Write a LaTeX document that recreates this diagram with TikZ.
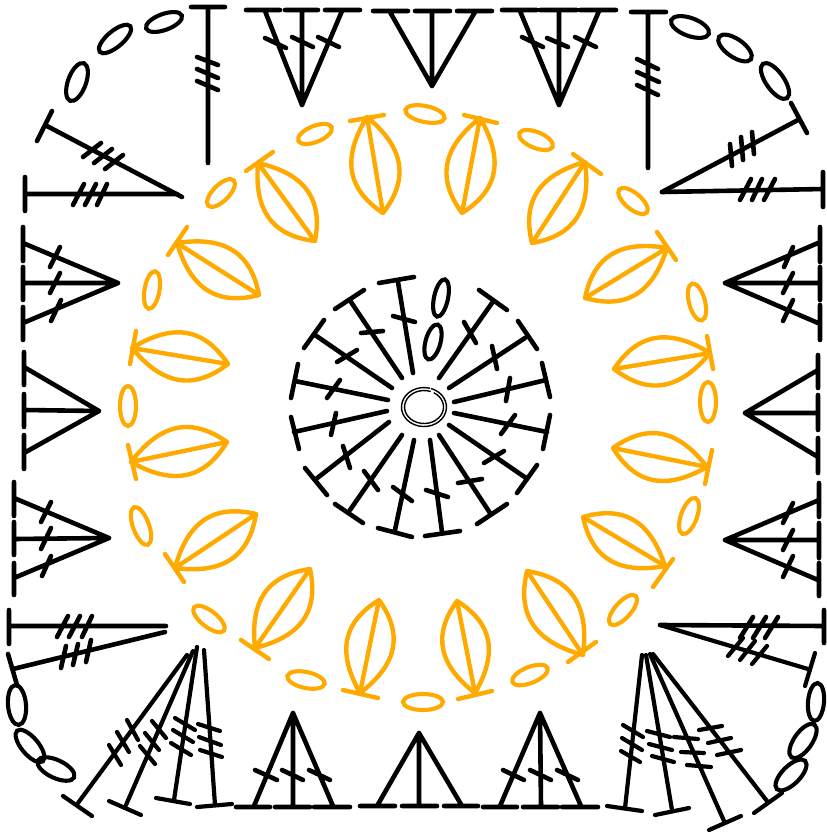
\documentclass[tikz,border=0pt]{standalone}
\definecolor{leaforange}{RGB}{255,170,0}
\tikzset{
  ink/.style={black,line width=4.6pt,line cap=round,line join=round},
  finer/.style={ink,line width=4.2pt},
  lf/.style={leaforange,line width=4.4pt,line cap=round,line join=round},
  loopk/.style={black,line width=4.1pt},
  loopo/.style={leaforange,line width=4.1pt},
  ringline/.style={black,line width=1.4pt},
  sideA/.style={relative,out=47,in=139,looseness=1.2},
  sideB/.style={relative,out=41,in=133,looseness=1.2}
}
% base, top, bar ends, tick ends
\newcommand{\stit}[6]{\draw[ink] (#1)--(#2) (#3)--(#4) (#5)--(#6);}
\newcommand{\lfshape}[4]{\draw[lf] (#1) to[sideA] (#2) to[sideB] (#1) (#1)--(#2) (#3)--(#4);}
\newcommand{\ov}[6]{\draw[#1] (#2,#3) ellipse[x radius=#5pt,y radius=#6pt,rotate=#4];}
\begin{document}
\begin{tikzpicture}[x=1pt,y=-1pt]
\useasboundingbox (0,0) rectangle (827,833);
% ---- centre ring
\draw[ringline] (429.8,388.2) arc[start angle=75,end angle=432,x radius=22.5pt,y radius=19.5pt];
\draw[ringline] (430.7,391.5) arc[start angle=70,end angle=420,x radius=19.5pt,y radius=16.5pt];
% ---- centre stitches
\stit{413,373}{398,282}{379,283}{414,277}{393,316}{415,322}
\stit{402,378}{351,302}{335,309}{364,290}{361,333}{383,331}
\stit{392,388}{315,335}{304,348}{324,320}{337,362}{357,350}
\stit{388,400}{295,381}{298,364}{291,398}{340,380}{327,398}
\stit{387,411}{294,432}{291,417}{299,449}{336,413}{331,435}
\stit{389,422}{316,479}{305,468}{327,495}{343,446}{350,468}
\stit{402,435}{350,510}{335,504}{363,523}{364,471}{378,490}
\stit{414,440}{395,530}{378,528}{412,537}{393,487}{412,501}
\stit{430,440}{442,532}{425,536}{460,531}{426,490}{448,497}
\stit{439,435}{490,513}{477,524}{507,504}{458,483}{482,479}
\stit{449,425}{526,478}{517,493}{537,465}{484,463}{504,451}
\stit{454,413}{547,432}{550,415}{543,449}{515,415}{501,434}
\stit{454,402}{546,380}{542,363}{550,397}{510,378}{506,401}
\stit{449,388}{525,338}{518,321}{537,349}{492,346}{497,369}
\stit{439,378}{492,303}{479,290}{507,310}{464,322}{476,343}
\ov{loopk}{441}{298}{78}{19}{7}
\ov{loopk}{433}{342}{75}{18}{7.5}
% ---- orange leaves
\lfshape{383,213}{367,117}{350,121}{384,115}
\lfshape{462,213}{480,118}{464,115}{497,123}
\lfshape{532,243}{585,162}{573,154}{601,174}
\lfshape{585,298}{667,248}{657,232}{676,260}
\lfshape{614,369}{710,353}{707,336}{713,369}
\lfshape{613,448}{707,467}{712,450}{705,484}
\lfshape{583,517}{665,566}{673,559}{653,587}
\lfshape{527,571}{583,655}{596,642}{568,662}
\lfshape{457,601}{475,693}{458,699}{492,691}
\lfshape{379,600}{360,693}{343,690}{378,698}
\lfshape{310,569}{255,648}{241,640}{269,659}
\lfshape{256,514}{175,568}{165,554}{184,582}
\lfshape{227,442}{131,462}{128,445}{136,479}
\lfshape{228,364}{132,348}{136,331}{130,364}
\lfshape{259,295}{177,243}{187,227}{168,255}
\lfshape{315,241}{258,163}{273,152}{246,171}
% ---- orange loops
\ov{loopo}{425}{114}{-12}{20}{8}
\ov{loopo}{315}{134}{22}{18}{8}
\ov{loopo}{536}{140}{-22}{18}{8}
\ov{loopo}{633}{201}{-40}{18}{8}
\ov{loopo}{221}{193}{45}{18}{8}
\ov{loopo}{697}{302}{-75}{19}{8}
\ov{loopo}{708}{402}{90}{20}{8}
\ov{loopo}{689}{516}{70}{19}{8}
\ov{loopo}{623}{610}{48}{19}{8}
\ov{loopo}{530}{675}{22}{19}{8}
\ov{loopo}{423}{702}{0}{20}{8}
\ov{loopo}{306}{680}{-12}{19}{8}
\ov{loopo}{209}{619}{-38}{19}{8}
\ov{loopo}{141}{526}{-70}{20}{8}
\ov{loopo}{128}{406}{90}{20}{8}
\ov{loopo}{152}{290}{80}{19}{7.5}
% ---- top-left corner
\ov{loopk}{164}{22}{20}{19}{8}
\ov{loopk}{115}{39}{40}{20}{8}
\ov{loopk}{77}{82}{70}{20}{9}
\draw[ink] (208,163)--(208,7) (191,7)--(225,7) (197,57)--(218,65) (197,69)--(218,78) (197,81)--(218,90);
\draw[ink] (182,197)--(45,125) (52,111)--(37,141) (101,143)--(83,157) (112,149)--(94,163) (123,155)--(105,169);
\draw[ink] (177,194)--(25,194) (25,177)--(25,211) (84,184)--(73,205) (96,184)--(85,205) (107,184)--(97,205);
% ---- left clusters
\draw[ink] (23,227)--(23,261) (23,267)--(23,300) (23,307)--(23,340) (118,283)--(23,243) (118,283)--(23,283) (118,283)--(23,323) (60,247)--(50,267) (60,273)--(50,293) (61,300)--(51,321);
\draw[ink] (24,352)--(24,385) (24,394)--(24,427) (24,435)--(24,469) (99,411)--(24,367) (99,411)--(24,410) (99,411)--(24,453);
\draw[ink] (14,482)--(14,516) (14,522)--(14,555) (14,563)--(14,595) (109,538)--(14,498) (109,538)--(14,539) (109,538)--(14,578) (51,502)--(41,522) (51,528)--(41,549) (51,556)--(42,576);
% ---- bottom-left corner
\draw[ink] (9,610)--(9,644) (9,626)--(166,626) (68,616)--(57,637) (80,616)--(69,637) (92,616)--(82,637);
\draw[ink] (165,632)--(13,669) (8,654)--(17,685) (66,646)--(61,668) (78,644)--(73,665) (91,640)--(86,662);
\ov{loopk}{17}{705}{-85}{20}{9}
\ov{loopk}{30}{746}{-50}{20}{8.5}
\ov{loopk}{56}{769}{-25}{20}{9}
\draw[finer] (187,655)--(78,803) (63,796)--(92,816) (127,720)--(138,740) (117,732)--(129,752) (109,745)--(121,765);
\draw[finer] (193,651)--(126,805) (109,801)--(141,815) (152,721)--(166,738) (145,733)--(159,750) (140,746)--(155,764);
\draw[finer] (197,647)--(174,800) (156,798)--(190,804) (175,718)--(195,730) (173,730)--(193,742) (171,743)--(191,755);
\draw[finer] (204,650)--(215,805) (197,807)--(232,804) (198,724)--(220,731) (199,737)--(221,745) (200,750)--(222,757);
% ---- bottom clusters
\draw[ink] (236,807)--(270,807) (275,807)--(310,807) (314,807)--(350,807) (293,713)--(254,806) (293,713)--(293,806) (293,713)--(333,806) (255,770)--(277,780) (282,770)--(303,780) (309,770)--(330,780);
\draw[ink] (360,806)--(395,806) (402,806)--(437,806) (444,806)--(478,806) (419,733)--(377,806) (419,733)--(419,806) (419,733)--(462,806);
\draw[ink] (483,807)--(517,807) (523,807)--(558,807) (562,807)--(598,807) (540,713)--(500,806) (540,713)--(541,806) (540,713)--(581,806) (503,770)--(524,780) (530,770)--(551,780) (557,770)--(578,780);
% ---- bottom-right corner
\draw[finer] (642,655)--(625,808) (607,806)--(642,811) (623,725)--(643,737) (622,738)--(642,750) (621,751)--(640,762);
\draw[finer] (646,655)--(672,810) (655,815)--(689,808) (647,731)--(670,737) (649,744)--(672,750) (652,756)--(674,762);
\draw[finer] (650,654)--(724,821) (709,830)--(741,816) (674,737)--(698,739) (681,752)--(704,753) (687,765)--(711,767);
\draw[finer] (653,654)--(767,801) (754,813)--(782,793) (699,730)--(722,726) (708,743)--(731,738) (717,755)--(741,750);
\ov{loopk}{816}{702}{85}{19}{8}
\ov{loopk}{803}{741}{55}{20}{9}
\ov{loopk}{791}{775}{45}{20}{9}
\draw[ink] (824,610)--(824,643) (824,626)--(660,625) (753,617)--(740,638) (766,617)--(753,638) (778,617)--(765,638);
\draw[finer] (660,625)--(808,669) (815,653)--(805,686) (743,638)--(728,656) (755,641)--(740,660) (767,646)--(752,664);
% ---- right clusters
\draw[ink] (819,483)--(819,517) (819,523)--(819,558) (819,563)--(819,596) (725,540)--(819,500) (725,540)--(819,540) (725,540)--(818,580) (793,503)--(783,523) (793,530)--(783,550) (793,556)--(783,577);
\draw[ink] (818,355)--(818,388) (818,395)--(818,430) (818,438)--(818,473) (745,413)--(818,370) (745,413)--(818,413) (745,413)--(818,457);
\draw[ink] (820,227)--(820,262) (820,267)--(820,300) (820,305)--(820,340) (725,283)--(818,243) (725,283)--(819,283) (725,283)--(818,323) (793,247)--(784,267) (793,273)--(783,293) (793,300)--(783,321);
% ---- top-right corner
\draw[ink] (662,192)--(823,189) (823,172)--(823,207) (751,179)--(740,200) (762,179)--(752,200) (775,179)--(764,200);
\draw[ink] (662,192)--(798,120) (791,103)--(807,133) (730,144)--(732,166) (741,137)--(743,160) (752,132)--(754,154);
\draw[ink] (648,168)--(648,12) (631,12)--(666,12) (637,59)--(658,69) (637,72)--(659,82) (637,85)--(658,95);
\ov{loopk}{690}{27}{-20}{20}{9}
\ov{loopk}{735}{48}{-35}{19.5}{9}
\ov{loopk}{775}{81}{-55}{21}{9}
% ---- top clusters
\draw[ink] (246,10)--(280,10) (285,10)--(318,10) (325,10)--(360,10) (302,105)--(265,11) (302,105)--(302,10) (302,105)--(342,11) (265,38)--(286,48) (292,37)--(313,47) (318,37)--(339,47);
\draw[ink] (373,11)--(408,11) (415,11)--(450,11) (457,11)--(492,11) (432,86)--(390,12) (432,86)--(432,11) (432,86)--(475,12);
\draw[ink] (502,10)--(537,10) (540,10)--(577,10) (580,10)--(616,10) (559,105)--(520,11) (559,105)--(559,10) (559,105)--(599,11) (522,37)--(543,47) (547,38)--(568,47) (575,37)--(596,47);
\end{tikzpicture}
\end{document}
